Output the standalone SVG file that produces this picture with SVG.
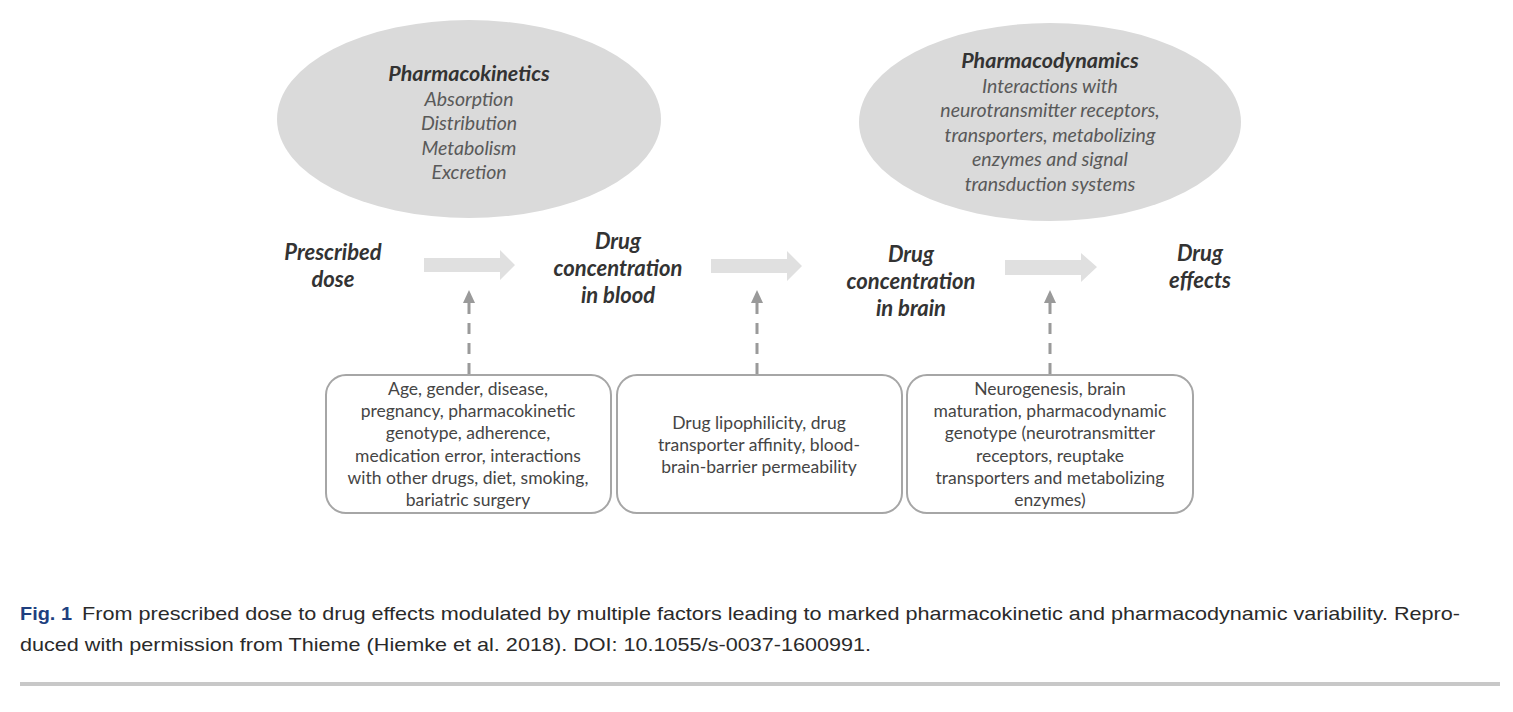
<svg xmlns="http://www.w3.org/2000/svg" width="1513" height="712" viewBox="0 0 1513 712">
<style>
.ell{fill:#dadada}
.box{fill:#fff;stroke:#a6a6a6;stroke-width:2}
.blk{fill:#e0e0e0}
.dash{stroke:#9a9a9a;stroke-width:3;stroke-dasharray:11 9;fill:none}
.head{fill:#9a9a9a}
.t{font-family:Lato,"Liberation Sans",sans-serif;text-anchor:middle}
.title{font-size:21.5px;font-weight:bold;font-style:italic;fill:#333}
.sub{font-size:19.5px;font-style:italic;fill:#595959}
.lbl{font-size:22px;font-weight:bold;font-style:italic;fill:#333}
.bt{font-size:17.5px;fill:#454545}
.cap{font-family:"Liberation Sans",Arial,sans-serif;font-size:19px;fill:#2a2a2a}
</style>
<rect width="1513" height="712" fill="#fff"/>
<g id="pk">
<ellipse class="ell" cx="469" cy="119" rx="192" ry="99"/>
<text class="t title" x="469" y="81">Pharmacokinetics</text>
<text class="t sub" x="469" y="106">Absorption</text>
<text class="t sub" x="469" y="130">Distribution</text>
<text class="t sub" x="469" y="155">Metabolism</text>
<text class="t sub" x="469" y="179">Excretion</text>
</g>
<g id="pd">
<ellipse class="ell" cx="1050" cy="122" rx="191" ry="99"/>
<text class="t title" x="1050" y="68">Pharmacodynamics</text>
<text class="t sub" x="1050" y="93">Interactions with</text>
<text class="t sub" x="1050" y="117">neurotransmitter receptors,</text>
<text class="t sub" x="1050" y="142">transporters, metabolizing</text>
<text class="t sub" x="1050" y="166">enzymes and signal</text>
<text class="t sub" x="1050" y="191">transduction systems</text>
</g>
<g id="dose">
<text class="t lbl" x="333" y="260">Prescribed</text>
<text class="t lbl" x="333" y="287">dose</text>
</g>
<g id="blood">
<text class="t lbl" x="618" y="249">Drug</text>
<text class="t lbl" x="618" y="276">concentration</text>
<text class="t lbl" x="618" y="303">in blood</text>
</g>
<g id="brain">
<text class="t lbl" x="911" y="262">Drug</text>
<text class="t lbl" x="911" y="289">concentration</text>
<text class="t lbl" x="911" y="316">in brain</text>
</g>
<g id="effects">
<text class="t lbl" x="1200" y="261">Drug</text>
<text class="t lbl" x="1200" y="288">effects</text>
</g>
<g id="box1">
<rect class="box" x="326" y="375" width="285" height="138" rx="20"/>
<text class="t bt" x="468" y="395">Age, gender, disease,</text>
<text class="t bt" x="468" y="417">pregnancy, pharmacokinetic</text>
<text class="t bt" x="468" y="439">genotype, adherence,</text>
<text class="t bt" x="468" y="462">medication error, interactions</text>
<text class="t bt" x="468" y="484">with other drugs, diet, smoking,</text>
<text class="t bt" x="468" y="506">bariatric surgery</text>
</g>
<g id="box2">
<rect class="box" x="617" y="375" width="285" height="138" rx="20"/>
<text class="t bt" x="759" y="429">Drug lipophilicity, drug</text>
<text class="t bt" x="759" y="451">transporter affinity, blood-</text>
<text class="t bt" x="759" y="473">brain-barrier permeability</text>
</g>
<g id="box3">
<rect class="box" x="907" y="375" width="286" height="138" rx="20"/>
<text class="t bt" x="1050" y="395">Neurogenesis, brain</text>
<text class="t bt" x="1050" y="417">maturation, pharmacodynamic</text>
<text class="t bt" x="1050" y="439">genotype (neurotransmitter</text>
<text class="t bt" x="1050" y="462">receptors, reuptake</text>
<text class="t bt" x="1050" y="484">transporters and metabolizing</text>
<text class="t bt" x="1050" y="506">enzymes)</text>
</g>
<g id="connectors">
<polygon class="blk" points="424,258 500,258 500,250 515,265 500,280 500,272 424,272"/>
<polygon class="blk" points="711,259 787,259 787,251 802,266 787,281 787,273 711,273"/>
<polygon class="blk" points="1005,260 1081,260 1081,253 1097,267 1081,282 1081,275 1005,275"/>
<path class="dash" d="M469,374 V302"/>
<polygon class="head" points="469,290 463,303 475,303"/>
<path class="dash" d="M757,374 V302"/>
<polygon class="head" points="757,290 751,303 763,303"/>
<path class="dash" d="M1050,374 V302"/>
<polygon class="head" points="1050,290 1044,303 1056,303"/>
</g>
<g id="caption">
<text class="cap" x="20" y="620" font-weight="bold" style="fill:#1f3f7f" textLength="52" lengthAdjust="spacingAndGlyphs">Fig. 1</text>
<text class="cap" x="82" y="620" textLength="1378" lengthAdjust="spacingAndGlyphs">From prescribed dose to drug effects modulated by multiple factors leading to marked pharmacokinetic and pharmacodynamic variability. Repro-</text>
<text class="cap" x="20" y="651" textLength="851" lengthAdjust="spacingAndGlyphs">duced with permission from Thieme (Hiemke et al. 2018). DOI: 10.1055/s-0037-1600991.</text>
<rect x="20" y="682" width="1480" height="4" fill="#c8c8c8"/>
</g>
</svg>
